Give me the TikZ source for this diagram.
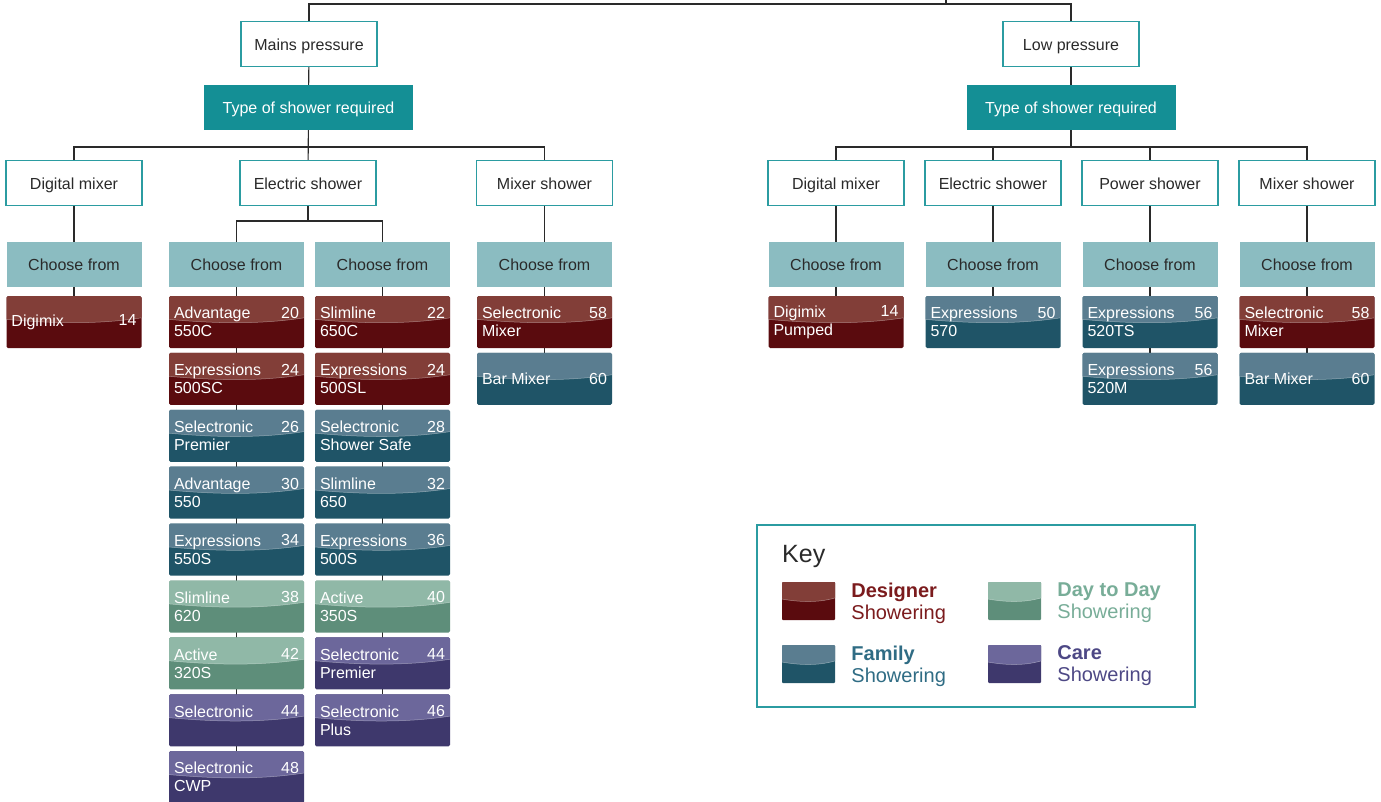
\documentclass[tikz,border=0pt]{standalone}
\usepackage{fontspec}
\setmainfont{Liberation Sans}
\usetikzlibrary{backgrounds,calc}
\definecolor{desD}{HTML}{5A0B0E}
\definecolor{desL}{HTML}{823E38}
\definecolor{famD}{HTML}{1F5467}
\definecolor{famL}{HTML}{5A7D90}
\definecolor{dayD}{HTML}{5E8E7A}
\definecolor{dayL}{HTML}{90B8A7}
\definecolor{careD}{HTML}{3E386C}
\definecolor{careL}{HTML}{6C679B}
\definecolor{desT}{HTML}{7B1B1D}
\definecolor{famT}{HTML}{2F6C84}
\definecolor{dayT}{HTML}{78AD98}
\definecolor{careT}{HTML}{4D4885}
\definecolor{tealfill}{HTML}{148F95}
\definecolor{tealline}{HTML}{2B9CA1}
\definecolor{choosefill}{HTML}{8BBCC1}
\definecolor{ink}{HTML}{2A2A2A}
\begin{document}
\begin{tikzpicture}[
    x=1pt, y=-1pt,
    every node/.style={font=\fontsize{16}{18}\selectfont, text=ink},
    conn/.style={draw=ink, line width=1.1pt},
    boxtext/.style={text height=12.5pt, text depth=0pt},
    optbox/.style={boxtext, draw=tealline, line width=1.2pt, fill=white, minimum width=136pt, minimum height=45pt},
    typebox/.style={boxtext, fill=tealfill, text=white, minimum width=209pt, minimum height=45pt},
    choose/.style={boxtext, fill=choosefill, minimum width=135pt, minimum height=45pt},
    glossy/.style={fill=#1D, path picture={
        \fill[#1L, sharp corners] let \p1=(path picture bounding box.north west), \p2=(path picture bounding box.south east) in
          (\x1,\y1) -- (\x2,\y1) -- (\x2,{\y1+.42*(\y2-\y1)})
          .. controls ({\x1+.65*(\x2-\x1)},{\y1+.56*(\y2-\y1)}) and ({\x1+.3*(\x2-\x1)},{\y1+.52*(\y2-\y1)}) .. (\x1,{\y1+.45*(\y2-\y1)}) -- cycle;
        \draw[white, opacity=.4, line width=.5pt] let \p1=(path picture bounding box.north west), \p2=(path picture bounding box.south east) in
          (\x2,{\y1+.42*(\y2-\y1)})
          .. controls ({\x1+.65*(\x2-\x1)},{\y1+.56*(\y2-\y1)}) and ({\x1+.3*(\x2-\x1)},{\y1+.52*(\y2-\y1)}) .. (\x1,{\y1+.45*(\y2-\y1)});
        }},
    tile/.style={glossy=#1, minimum width=135pt, minimum height=52pt, rounded corners=1.5pt, inner sep=0pt},
    swatch/.style={glossy=#1, minimum width=53pt, minimum height=38pt, rounded corners=1pt, inner sep=0pt},
    des/.style={tile=des}, fam/.style={tile=fam}, day/.style={tile=day}, care/.style={tile=care},
    tiletext/.style={text=white, align=left, inner sep=0pt},
    keytext/.style={font=\fontsize{20}{22}\selectfont, align=left, inner sep=0pt}
    ]
  \useasboundingbox (0,0) rectangle (1381,801);

  \coordinate (root) at (946,0);
  \coordinate (split) at (946,4);
  \node[optbox] (mains) at (309,44) {Mains pressure};
  \node[optbox] (low) at (1071,44) {Low pressure};
  \node[typebox] (type1) at (308.5,107.5) {Type of shower required};
  \node[typebox] (type2) at (1071,107.5) {Type of shower required};

  \node[optbox] (dml) at (74,183) {Digital mixer};
  \node[optbox] (esl) at (308,183) {Electric shower};
  \node[optbox] (msl) at (544.5,183) {Mixer shower};
  \node[optbox] (dmr) at (836,183) {Digital mixer};
  \node[optbox] (esr) at (993,183) {Electric shower};
  \node[optbox] (psr) at (1150,183) {Power shower};
  \node[optbox] (msr) at (1307,183) {Mixer shower};
  \coordinate (bus1) at (308,147);
  \coordinate (bus2) at (1071,147);
  \coordinate (esplit) at (308,221);

  \node[choose] (cfdml) at (74,264.5) {Choose from};
  \node[choose] (cfesa) at (236.5,264.5) {Choose from};
  \node[choose] (cfesb) at (382.5,264.5) {Choose from};
  \node[choose] (cfmsl) at (544.5,264.5) {Choose from};
  \node[choose] (cfdmr) at (836,264.5) {Choose from};
  \node[choose] (cfesr) at (993,264.5) {Choose from};
  \node[choose] (cfpsr) at (1150,264.5) {Choose from};
  \node[choose] (cfmsr) at (1307,264.5) {Choose from};

  \draw[conn] (root) -- (split);
  \draw[conn] (mains.north) |- (split) -| (low.north);
  \draw[conn] (mains) -- (type1);
  \draw[conn] (low) -- (type2);
  \draw[conn] (type1) -- (esl);
  \draw[conn] (dml.north) |- (bus1) -| (msl.north);
  \draw[conn] (type2.south) -- (bus2);
  \draw[conn] (dmr.north) |- (bus2) -| (msr.north);
  \draw[conn] (esr.north) |- (bus2);
  \draw[conn] (psr.north) |- (bus2);
  \draw[conn] (esl.south) -- (esplit);
  \draw[conn] (cfesa.north) |- (esplit) -| (cfesb.north);
  \foreach \a in {dm,ms}
    \draw[conn] (\a l) -- (cf\a l);
  \foreach \a in {dm,es,ps,ms}
    \draw[conn] (\a r) -- (cf\a r);

  \foreach \col/\cx/\list in {
      dml/74/{{Digimix}/14/des},
      esa/236.5/{{Advantage\\550C}/20/des, {Expressions\\500SC}/24/des, {Selectronic\\Premier}/26/fam,
        {Advantage\\550}/30/fam, {Expressions\\550S}/34/fam, {Slimline\\620}/38/day,
        {Active\\320S}/42/day, {Selectronic\\\mbox{}}/44/care, {Selectronic\\CWP}/48/care},
      esb/382.5/{{Slimline\\650C}/22/des, {Expressions\\500SL}/24/des, {Selectronic\\Shower Safe}/28/fam,
        {Slimline\\650}/32/fam, {Expressions\\500S}/36/fam, {Active\\350S}/40/day,
        {Selectronic\\Premier}/44/care, {Selectronic\\Plus}/46/care},
      msl/544.5/{{Selectronic\\Mixer}/58/des, {Bar Mixer}/60/fam},
      dmr/836/{{Digimix\\Pumped}/14/des},
      esr/993/{{Expressions\\570}/50/fam},
      psr/1150/{{Expressions\\520TS}/56/fam, {Expressions\\520M}/56/fam},
      msr/1307/{{Selectronic\\Mixer}/58/des, {Bar Mixer}/60/fam}}
    \foreach \txt/\num/\c [count=\k from 0] in \list {
      \node[\c] (\col\k) at (\cx,322+56.9*\k) {};
      \node[tiletext, anchor=west] (\col\k txt) at ([xshift=5pt]\col\k.west) {\txt};
      \node[tiletext, anchor=north east] at ([xshift=-5pt]\col\k.east |- \col\k txt.north) {\num};
      \begin{scope}[on background layer]
        \draw[conn] (cf\col) -- (\col\k);
      \end{scope}
    };

  % key
  \node[draw=tealline, line width=1.2pt, minimum width=438pt, minimum height=182pt] (key) at (976,616) {};
  \node[font=\fontsize{25}{28}\selectfont, anchor=base west, inner sep=0pt] (keytitle) at (782,562) {Key};
  \node[swatch=des] (kdes) at (808.5,601) {};
  \node[swatch=day] (kday) at (1014.5,601) {};
  \node[swatch=fam] (kfam) at (808.5,664) {};
  \node[swatch=care] (kcare) at (1014.5,664) {};
  \node[keytext, text=desT, anchor=west] at ([shift={(16pt,-2pt)}]kdes.east) {\textbf{Designer}\\Showering};
  \node[keytext, text=dayT, anchor=west] at ([shift={(16pt,-2pt)}]kday.east) {\textbf{Day to Day}\\Showering};
  \node[keytext, text=famT, anchor=west] at ([shift={(16pt,-2pt)}]kfam.east) {\textbf{Family}\\Showering};
  \node[keytext, text=careT, anchor=west] at ([shift={(16pt,-2pt)}]kcare.east) {\textbf{Care}\\Showering};
\end{tikzpicture}
\end{document}
